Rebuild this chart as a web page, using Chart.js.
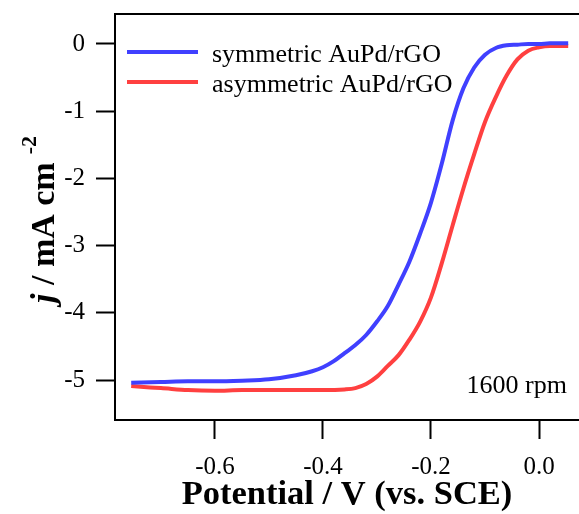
<!DOCTYPE html>
<html>
<head>
<meta charset="utf-8">
<script src="https://cdn.jsdelivr.net/npm/chart.js@4/dist/chart.umd.min.js"></script>
<style>
  html, body { margin: 0; padding: 0; background: #fff; }
  #wrap { width: 579px; height: 514px; }
</style>
</head>
<body>
<div id="wrap"><canvas id="rde"></canvas></div>
<script>
// potential (V vs. SCE) and current density (mA cm-2)
const potSym = [-0.755, -0.70, -0.65, -0.60, -0.55, -0.50, -0.45, -0.42, -0.40, -0.38, -0.36, -0.34, -0.32, -0.30, -0.28, -0.26, -0.24, -0.22, -0.20, -0.18, -0.16, -0.14, -0.12, -0.10, -0.08, -0.06, -0.04, -0.02, 0.00, 0.02, 0.054];
const jSym = [-5.04, -5.03, -5.02, -5.02, -5.01, -4.99, -4.93, -4.87, -4.81, -4.72, -4.60, -4.48, -4.33, -4.13, -3.90, -3.58, -3.24, -2.82, -2.36, -1.78, -1.14, -0.66, -0.35, -0.16, -0.06, -0.02, -0.01, 0.00, 0.00, 0.01, 0.01];

const potAsym = [-0.755, -0.72, -0.70, -0.65, -0.60, -0.55, -0.50, -0.45, -0.40, -0.36, -0.34, -0.32, -0.30, -0.28, -0.26, -0.24, -0.22, -0.20, -0.18, -0.16, -0.14, -0.12, -0.10, -0.08, -0.06, -0.04, -0.02, 0.00, 0.02, 0.054];
const jAsym = [-5.09, -5.11, -5.12, -5.15, -5.16, -5.15, -5.15, -5.15, -5.15, -5.14, -5.12, -5.06, -4.95, -4.79, -4.63, -4.40, -4.13, -3.77, -3.26, -2.70, -2.15, -1.64, -1.16, -0.79, -0.47, -0.23, -0.10, -0.05, -0.03, -0.03];

const seriesNames = ["symmetric AuPd/rGO", "asymmetric AuPd/rGO"];
const xTicks = [-0.6, -0.4, -0.2, 0.0];
const yTicks = [0, -1, -2, -3, -4, -5];

const serif = "'Liberation Serif', 'Times New Roman', serif";

function pts(xs, ys) {
  return xs.map((x, i) => ({ x: x, y: ys[i] }));
}

// top frame line, legend, annotation and y title with italic j and superscript
const extras = {
  id: "extras",
  afterDatasetsDraw(chart) {
    const ctx = chart.ctx;
    const a = chart.chartArea;
    ctx.save();
    ctx.strokeStyle = "#000";
    ctx.lineWidth = 2;
    ctx.beginPath();
    ctx.moveTo(a.left - 1, a.top);
    ctx.lineTo(a.right, a.top);
    ctx.stroke();

    // legend
    ctx.font = "26px " + serif;
    ctx.fillStyle = "#000";
    chart.data.datasets.forEach((ds, i) => {
      const y = a.top + 38 + i * 30;
      ctx.strokeStyle = ds.borderColor;
      ctx.lineWidth = 4;
      ctx.beginPath();
      ctx.moveTo(a.left + 12, y);
      ctx.lineTo(a.left + 83, y);
      ctx.stroke();
      ctx.fillText(ds.label, a.left + 97, y + 10);
    });

    ctx.textAlign = "right";
    ctx.fillText("1600 rpm", a.right - 12, 393);

    // y axis title
    ctx.translate(54, 303);
    ctx.rotate(-Math.PI / 2);
    ctx.textAlign = "left";
    ctx.textBaseline = "alphabetic";
    ctx.font = "italic bold 34px " + serif;
    ctx.fillText("j", 0, 0);
    let w = ctx.measureText("j").width;
    ctx.font = "bold 34px " + serif;
    ctx.fillText(" / mA cm", w, 0);
    w += ctx.measureText(" / mA cm").width;
    ctx.font = "bold 22px " + serif;
    ctx.fillText("-2", w + 8, -18);
    ctx.restore();
  }
};

new Chart(document.getElementById("rde"), {
  type: "scatter",
  data: {
    datasets: [
      {
        label: seriesNames[0],
        data: pts(potSym, jSym),
        showLine: true,
        borderColor: "#4040ff",
        borderWidth: 4,
        pointRadius: 0,
        cubicInterpolationMode: "monotone"
      },
      {
        label: seriesNames[1],
        data: pts(potAsym, jAsym),
        showLine: true,
        borderColor: "#ff4040",
        borderWidth: 4,
        pointRadius: 0,
        cubicInterpolationMode: "monotone"
      }
    ]
  },
  options: {
    responsive: true,
    maintainAspectRatio: false,
    animation: false,
    layout: { padding: { top: 14, right: 0, left: 0, bottom: 0 } },
    plugins: {
      legend: { display: false },
      tooltip: { enabled: false }
    },
    scales: {
      x: {
        type: "linear",
        min: -0.785,
        max: 0.074,
        afterBuildTicks: s => { s.ticks = xTicks.map(v => ({ value: v })); },
        afterFit: s => { s.height = 94; s.paddingLeft = 0; s.paddingRight = 0; },
        border: { display: true, color: "#000", width: 2 },
        grid: { drawOnChartArea: false, drawTicks: true, tickLength: 19, tickWidth: 2, tickColor: "#000" },
        ticks: {
          color: "#000",
          padding: 13,
          maxRotation: 0,
          font: { family: serif, size: 25 },
          callback: v => v.toFixed(1)
        },
        title: {
          display: true,
          text: "Potential / V (vs. SCE)",
          color: "#000",
          padding: { top: 0, bottom: 2 },
          font: { family: serif, size: 34.5, weight: "bold", lineHeight: 1 }
        }
      },
      y: {
        type: "linear",
        min: -5.595,
        max: 0.446,
        afterBuildTicks: s => { s.ticks = yTicks.map(v => ({ value: v })); },
        afterFit: s => { s.width = 115; s.paddingTop = 0; s.paddingBottom = 0; },
        border: { display: true, color: "#000", width: 2 },
        grid: { drawOnChartArea: false, drawTicks: true, tickLength: 19, tickWidth: 2, tickColor: "#000" },
        ticks: {
          color: "#000",
          padding: 11,
          font: { family: serif, size: 25 },
          callback: v => String(v)
        }
      }
    }
  },
  plugins: [extras]
});
</script>
</body>
</html>
